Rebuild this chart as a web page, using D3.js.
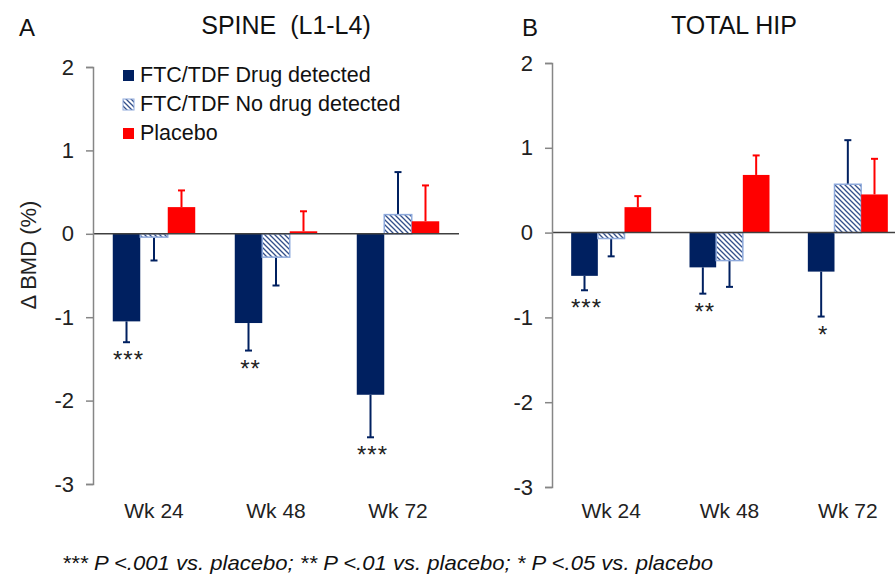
<!DOCTYPE html>
<html>
<head>
<meta charset="utf-8">
<script src="https://cdn.jsdelivr.net/npm/d3@7"></script>
<style>
  body { margin: 0; background: #fff; }
  svg { font-family: Arial, "Liberation Sans", sans-serif; }
</style>
</head>
<body>
<div id="chart"></div>
<script>
// categories / series
const weeks = ['Wk 24', 'Wk 48', 'Wk 72'];
const seriesNames = ['FTC/TDF Drug detected', 'FTC/TDF No drug detected', 'Placebo'];
const yTicks = [-3, -2, -1, 0, 1, 2];

// spine (L1-L4): mean change and error
const spineDrug = [-1.05, -1.07, -1.93];
const spineNoDrug = [-0.04, -0.28, 0.23];
const spinePlacebo = [0.32, 0.03, 0.15];
const spineDrugErr = [0.25, 0.33, 0.51];
const spineNoDrugErr = [0.28, 0.34, 0.51];
const spinePlaceboErr = [0.20, 0.24, 0.43];
const spineStars = ['***', '**', '***'];

// total hip
const hipDrug = [-0.51, -0.41, -0.46];
const hipNoDrug = [-0.07, -0.33, 0.57];
const hipPlacebo = [0.30, 0.68, 0.45];
const hipDrugErr = [0.17, 0.31, 0.53];
const hipNoDrugErr = [0.21, 0.31, 0.52];
const hipPlaceboErr = [0.13, 0.23, 0.42];
const hipStars = ['***', '**', '*'];

const w = 895;
const h = 574;
const navy = '#002060';
const red = '#ff0000';

const svg = d3.select('#chart')
              .append('svg')
              .attr('width', w)
              .attr('height', h);

// hatch for "no drug detected"
const pat = svg.append('defs')
               .append('pattern')
               .attr('id', 'hatch')
               .attr('patternUnits', 'userSpaceOnUse')
               .attr('width', 5)
               .attr('height', 5);
pat.append('rect').attr('width', 5).attr('height', 5).attr('fill', '#fff');
pat.append('path')
   .attr('d', 'M0,0 L5,5 M-1,4 L1,6 M4,-1 L6,1')
   .attr('stroke', '#34508a')
   .attr('stroke-width', 1.3);

const fills = [navy, 'url(#hatch)', red];
const strokes = [navy, '#8faadc', red];
const errColors = [navy, navy, red];

const drawPanel = (opt) => {
  const g = svg.append('g');
  const x = d3.scaleBand()
              .domain(weeks)
              .range(opt.xRange)
              .paddingInner(0.324)
              .paddingOuter(0.162);
  const xs = d3.scaleBand()
               .domain(d3.range(3))
               .range([0, x.bandwidth()]);
  const y = d3.scaleLinear()
              .domain([-3, 2])
              .range(opt.yRange);

  const rows = [];
  weeks.forEach((wk, i) => {
    opt.values.forEach((vals, s) => {
      rows.push({ wk: wk, s: s, v: vals[i], e: opt.errs[s][i] });
    });
  });

  // error bars (drawn first so bars cover the stub)
  const eb = g.selectAll('.err')
              .data(rows)
              .enter()
              .append('g')
              .attr('class', 'err')
              .attr('stroke', d => errColors[d.s])
              .attr('stroke-width', 2);
  const cx = d => x(d.wk) + xs(d.s) + xs.bandwidth() / 2;
  const tip = d => y(d.v >= 0 ? d.v + d.e : d.v - d.e);
  eb.append('line')
    .attr('x1', cx).attr('x2', cx)
    .attr('y1', d => y(d.v)).attr('y2', tip);
  eb.append('line')
    .attr('x1', d => cx(d) - 3.5).attr('x2', d => cx(d) + 3.5)
    .attr('y1', tip).attr('y2', tip);

  g.selectAll('.bar')
   .data(rows)
   .enter()
   .append('rect')
   .attr('class', 'bar')
   .attr('x', d => x(d.wk) + xs(d.s))
   .attr('width', xs.bandwidth())
   .attr('y', d => y(Math.max(0, d.v)))
   .attr('height', d => Math.abs(y(d.v) - y(0)))
   .attr('fill', d => fills[d.s])
   .attr('stroke', d => d.s === 1 ? strokes[1] : 'none')
   .attr('stroke-width', 1.5);

  // zero line
  g.append('line')
   .attr('x1', opt.xRange[0]).attr('x2', opt.xRange[1])
   .attr('y1', y(0)).attr('y2', y(0))
   .attr('stroke', '#404040')
   .attr('stroke-width', 1.5);

  // significance stars under drug-detected bars
  g.selectAll('.star')
   .data(weeks)
   .enter()
   .append('text')
   .attr('class', 'star')
   .attr('x', (d, i) => x(d) + xs(0) + xs.bandwidth() / 2 + 2)
   .attr('y', (d, i) => y(opt.values[0][i] - opt.errs[0][i]) + 26)
   .attr('text-anchor', 'middle')
   .attr('font-size', 24)
   .attr('letter-spacing', 1)
   .attr('fill', '#222')
   .text((d, i) => opt.stars[i]);

  const yAxis = d3.axisLeft(y)
                  .tickValues(yTicks)
                  .tickSize(7)
                  .tickPadding(12)
                  .tickFormat(d => String(d));
  const ax = g.append('g')
              .attr('transform', 'translate(' + opt.xRange[0] + ', 0)')
              .call(yAxis);
  ax.select('.domain').attr('stroke', '#868686').attr('stroke-width', 1.5);
  ax.selectAll('.tick line').attr('stroke', '#868686').attr('stroke-width', 1.5);
  ax.selectAll('.tick text')
    .attr('font-size', 22)
    .attr('font-family', 'Arial, "Liberation Sans", sans-serif')
    .attr('fill', '#222');

  // category labels
  g.selectAll('.wk')
   .data(weeks)
   .enter()
   .append('text')
   .attr('class', 'wk')
   .attr('x', d => x(d) + x.bandwidth() / 2)
   .attr('y', 518)
   .attr('text-anchor', 'middle')
   .attr('font-size', 21)
   .attr('fill', '#222')
   .text(d => d);

  g.append('text')
   .attr('x', opt.letterX)
   .attr('y', 36)
   .attr('font-size', 24)
   .attr('fill', '#111')
   .text(opt.letter);

  g.append('text')
   .attr('x', opt.titleX)
   .attr('y', 34)
   .attr('text-anchor', 'middle')
   .attr('font-size', 25)
   .attr('fill', '#111')
   .style('white-space', 'pre')
   .text(opt.title);
};

drawPanel({
  xRange: [93, 459],
  yRange: [484, 67],
  values: [spineDrug, spineNoDrug, spinePlacebo],
  errs: [spineDrugErr, spineNoDrugErr, spinePlaceboErr],
  stars: spineStars,
  letter: 'A',
  letterX: 19,
  title: 'SPINE  (L1-L4)',
  titleX: 286
});

drawPanel({
  xRange: [552, 907],
  yRange: [487, 63],
  values: [hipDrug, hipNoDrug, hipPlacebo],
  errs: [hipDrugErr, hipNoDrugErr, hipPlaceboErr],
  stars: hipStars,
  letter: 'B',
  letterX: 522,
  title: 'TOTAL HIP',
  titleX: 734
});

// legend
const legend = svg.append('g')
                  .selectAll('g')
                  .data(seriesNames)
                  .enter()
                  .append('g')
                  .attr('transform', (d, i) => 'translate(123, ' + (82 + i * 29) + ')');
legend.append('rect')
      .attr('x', 0)
      .attr('y', -12)
      .attr('width', 11)
      .attr('height', 11)
      .attr('fill', (d, i) => fills[i])
      .attr('stroke', (d, i) => i === 1 ? strokes[1] : 'none')
      .attr('stroke-width', 1);
legend.append('text')
      .attr('x', 17)
      .attr('y', 0)
      .attr('font-size', 21.5)
      .attr('fill', '#111')
      .text(d => d);

// y label
svg.append('text')
   .attr('transform', 'translate(36, 255) rotate(-90)')
   .attr('text-anchor', 'middle')
   .attr('font-size', 22)
   .attr('fill', '#222')
   .style('white-space', 'pre')
   .text('\u0394 BMD (%)');

// footnote
svg.append('text')
   .attr('x', 62)
   .attr('y', 570)
   .attr('font-size', 21)
   .attr('font-style', 'italic')
   .attr('fill', '#111')
   .attr('textLength', 651)
   .attr('lengthAdjust', 'spacingAndGlyphs')
   .text('*** P <.001 vs. placebo; ** P <.01 vs. placebo; * P <.05 vs. placebo');
</script>
</body>
</html>
